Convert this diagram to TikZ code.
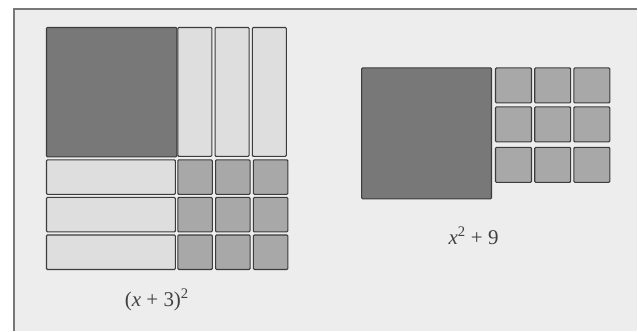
\documentclass[tikz,border=0pt]{standalone}
\usepackage{fontspec}
\setmainfont{Liberation Serif}
\usepackage{tikz}
\definecolor{tiledark}{RGB}{120,120,120}
\definecolor{tilemid}{RGB}{168,168,168}
\definecolor{tilelight}{RGB}{222,222,222}
\definecolor{panelgray}{RGB}{237,237,237}
\definecolor{edgegray}{RGB}{60,60,60}
\definecolor{framegray}{RGB}{120,120,120}

\begin{document}
\begin{tikzpicture}[x=1pt, y=-1pt,
      bigsq/.style={draw=edgegray, fill=tiledark, line width=1.1pt, rounded corners=1pt},
      strip/.style={draw=edgegray, fill=tilelight, line width=1.1pt, rounded corners=1pt},
      unitsq/.style={draw=edgegray, fill=tilemid, line width=1.1pt, rounded corners=1pt},
      lbl/.style={font=\fontsize{21}{24}\selectfont, text=black!75}
    ]
    % panel
    \fill[white] (0,0) rectangle (638,331);
    \fill[panelgray] (14,9) rectangle (638,331);
    \draw[framegray, line width=1.2pt] (14,331) -- (14,9) -- (638,9);

    % (x+3)^2
    \draw[bigsq] (46.5,27.5) rectangle (177,157);
    \foreach \i in {0,1,2}
      \draw[strip] ({178+37.3*\i},27.5) rectangle +(34,129);
    \foreach \j in {0,1,2}
      \draw[strip] (46.5,{160+37.6*\j}) rectangle +(129,34.5);
    \foreach \i in {0,1,2}
      \foreach \j in {0,1,2}
        \draw[unitsq] ({178+37.8*\i},{160+37.6*\j}) rectangle +(34.5,34.5);
    \node[lbl] (lsum) at (157,300) {(\textit{x} + 3)\textsuperscript{2}};

    % x^2+9
    \draw[bigsq] (362,68) rectangle (492,199);
    \foreach \i in {0,1,2}
      \foreach \j/\y in {0/68,1/107,2/147.5}
        \draw[unitsq] ({496+39.2*\i},\y) rectangle +(36,35);
    \node[lbl] (rsum) at (474,236) {\textit{x}\textsuperscript{2} + 9};
  \end{tikzpicture}
\end{document}
